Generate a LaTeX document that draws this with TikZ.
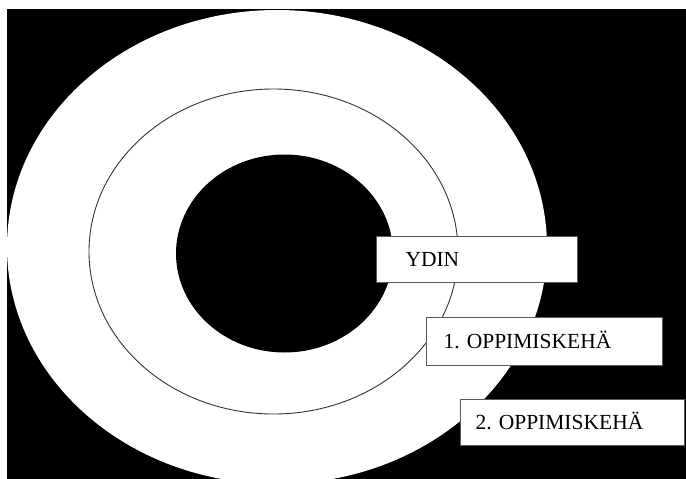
\documentclass[tikz,border=0pt]{standalone}
\usepackage{fontspec}
\setmainfont{Liberation Serif}
\usetikzlibrary{positioning}
\frenchspacing
\tikzset{
  backdrop/.style={fill=black},
  zone/.style={fill=white},
  rim/.style={draw=black!80, line width=0.9pt},
  core/.style={fill=black},
  tag/.style={draw=black!65, fill=white, line width=1pt, anchor=north west, align=left,
    text height=14pt, text depth=0pt, font=\fontsize{21.5}{24}\selectfont}
}

\begin{document}
\begin{tikzpicture}[x=1pt,y=-1pt]
  \useasboundingbox[fill=white] (0,0) rectangle (686,479);
  \fill[backdrop] (7,9) rectangle (686,479);
  \begin{scope}
    \clip (7,9) rectangle (686,479);
    \fill[zone] (277,247) ellipse (270 and 237);
    \draw[rim] (273.5,251.5) ellipse (184.5 and 162.5);
    \fill[core] (284.5,253.5) ellipse (108.5 and 99);
  \end{scope}
  \node[tag, minimum width=201pt, minimum height=46pt, inner xsep=29pt, text width=143pt] (ydin) at (376,236) {YDIN};
  \node[tag, minimum width=236pt, minimum height=48pt, inner xsep=17pt, text width=202pt] (keha1) at (426,317) {1. OPPIMISKEHÄ};
  \node[tag, minimum width=224pt, minimum height=46pt, inner xsep=15pt, text width=194pt] (keha2) at (460,399) {2. OPPIMISKEHÄ};
\end{tikzpicture}
\end{document}
